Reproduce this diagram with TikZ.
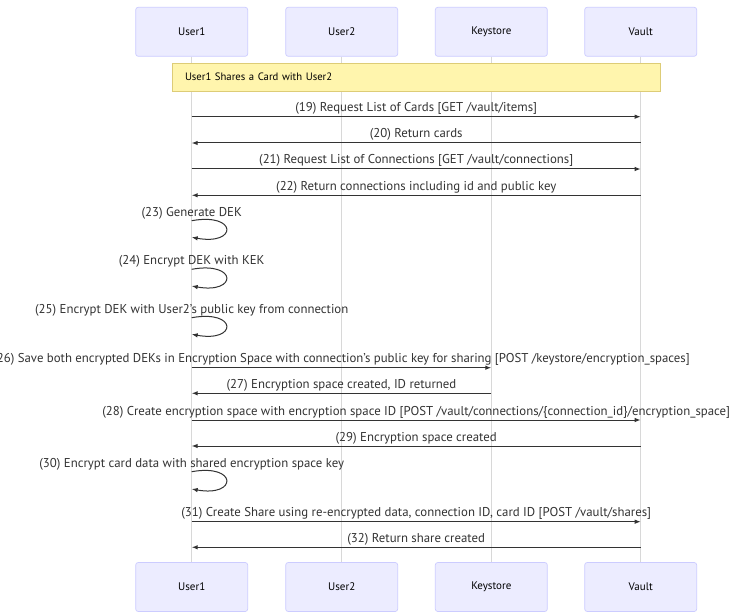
\documentclass[tikz,border=0pt]{standalone}
\usepackage{fontspec}
\setmainfont{PT Sans}
\usetikzlibrary{arrows.meta,calc}
\definecolor{actorfill}{HTML}{ECECFF}
\definecolor{actorborder}{HTML}{CCCCFF}
\definecolor{notefill}{HTML}{FFF5AD}
\definecolor{noteborder}{HTML}{DDCC77}
\definecolor{msgcol}{HTML}{333333}
\definecolor{lifegray}{HTML}{D8D8D8}
\begin{document}
\begin{tikzpicture}[x=1pt,y=-1pt,
  actor/.style={draw=actorborder, fill=actorfill, rounded corners=2.5pt, minimum width=112pt, minimum height=49pt, inner sep=0pt, line width=0.7pt, font=\fontsize{11}{13}\selectfont},
  life/.style={draw=lifegray, line width=0.7pt},
  msg/.style={draw=msgcol, line width=1pt, -{Latex[length=6pt,width=4.5pt]}},
  lbl/.style={font=\fontsize{12.8}{14}\selectfont, text=msgcol, inner sep=0pt, anchor=base},
  notebox/.style={draw=noteborder, fill=notefill, line width=0.7pt, text width=462pt, inner xsep=13pt, inner ysep=0pt, minimum height=28pt, align=left, font=\fontsize{10.7}{13}\selectfont}
]
\useasboundingbox (0,0) rectangle (735,612);
\fill[white] (0,0) rectangle (735,612);
% actors top
\node[actor] (u1t) at (191.7,31.8) {User1};
\node[actor] (u2t) at (341.7,31.8) {User2};
\node[actor] (kst) at (491.3,31.8) {Keystore};
\node[actor] (vt)  at (640.7,31.8) {Vault};
% actors bottom
\node[actor] (u1b) at (191.7,587) {User1};
\node[actor] (u2b) at (341.7,587) {User2};
\node[actor] (ksb) at (491.3,587) {Keystore};
\node[actor] (vb)  at (640.7,587) {Vault};
% lifelines
\draw[life] (u1t.south) -- (u1b.north);
\draw[life] (u2t.south) -- (u2b.north);
\draw[life] (kst.south) -- (ksb.north);
\draw[life] (vt.south) -- (vb.north);
% note
\node[notebox] (note) at (416,77) {User1 Shares a Card with User2};
% messages
\draw[msg] (u1t |- 0,116.7) -- node[lbl, yshift=5pt] {(19) Request List of Cards [GET /vault/items]} (vt |- 0,116.7);
\draw[msg] (vt |- 0,143) -- node[lbl, yshift=5pt] {(20) Return cards} (u1t |- 0,143);
\draw[msg] (u1t |- 0,169) -- node[lbl, yshift=5pt] {(21) Request List of Connections [GET /vault/connections]} (vt |- 0,169);
\draw[msg] (vt |- 0,195.3) -- node[lbl, yshift=5pt] {(22) Return connections including id and public key} (u1t |- 0,195.3);
% self messages
\node[lbl] (l23) at ($(u1t |- 0,216)$) {(23) Generate DEK};
\draw[msg] (u1t |- 0,220.7) .. controls +(46,-8.3) and +(46,8.3) .. (u1t |- 0,237.3);
\node[lbl] (l24) at ($(u1t |- 0,264)$) {(24) Encrypt DEK with KEK};
\draw[msg] (u1t |- 0,269.3) .. controls +(46,-8.3) and +(46,8.3) .. (u1t |- 0,286);
\node[lbl] (l25) at ($(u1t |- 0,313)$) {(25) Encrypt DEK with User2's public key from connection};
\draw[msg] (u1t |- 0,317.7) .. controls +(46,-8.3) and +(46,8.3) .. (u1t |- 0,334.3);
\draw[msg] (u1t |- 0,367.7) -- node[lbl, yshift=5pt] {(26) Save both encrypted DEKs in Encryption Space with connection's public key for sharing [POST /keystore/encryption\_spaces]} (kst |- 0,367.7);
\draw[msg] (kst |- 0,393.3) -- node[lbl, yshift=5pt] {(27) Encryption space created, ID returned} (u1t |- 0,393.3);
\draw[msg] (u1t |- 0,420) -- node[lbl, yshift=5pt] {(28) Create encryption space with encryption space ID [POST /vault/connections/\{connection\_id\}/encryption\_space]} (vt |- 0,420);
\draw[msg] (vt |- 0,446) -- node[lbl, yshift=5pt] {(29) Encryption space created} (u1t |- 0,446);
\node[lbl] (l30) at ($(u1t |- 0,467)$) {(30) Encrypt card data with shared encryption space key};
\draw[msg] (u1t |- 0,471.7) .. controls +(46,-8.3) and +(46,8.3) .. (u1t |- 0,489);
\draw[msg] (u1t |- 0,521.7) -- node[lbl, yshift=5pt] {(31) Create Share using re-encrypted data, connection ID, card ID [POST /vault/shares]} (vt |- 0,521.7);
\draw[msg] (vt |- 0,547.3) -- node[lbl, yshift=5pt] {(32) Return share created} (u1t |- 0,547.3);
\end{tikzpicture}
\end{document}
